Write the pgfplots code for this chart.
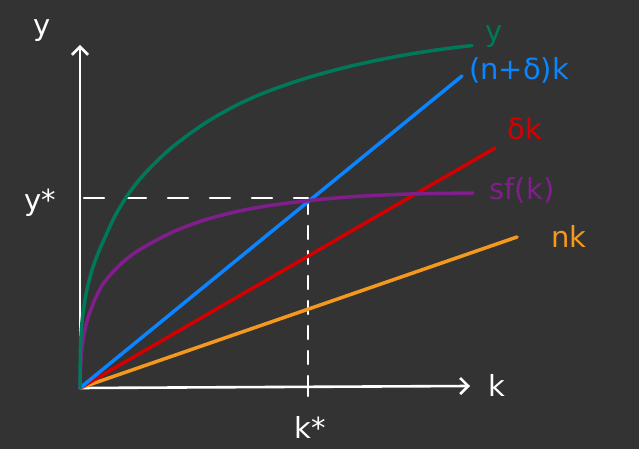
\documentclass[border=0pt]{standalone}
\usepackage{pgfplots}
\pgfplotsset{compat=1.18}
\usepackage{fontspec}
\setmainfont{DejaVu Sans}
\usetikzlibrary{arrows.meta}
\definecolor{bg}{HTML}{333333}
\definecolor{cgreen}{RGB}{0,121,90}
\definecolor{cblue}{RGB}{10,133,255}
\definecolor{cred}{RGB}{212,0,0}
\definecolor{cpurple}{RGB}{128,30,140}
\definecolor{corange}{RGB}{245,152,30}
\tikzset{lbl/.style={font=\fontsize{29}{32}\selectfont}}
\begin{document}
\begin{tikzpicture}
\begin{axis}[
  x=1pt, y=1pt, xmin=0, xmax=639, ymin=0, ymax=449,
  axis lines=none, clip=false, scale only axis,
  every axis plot/.append style={line width=3.5pt, line cap=round, line join=round},
]
\fill[bg] (axis cs:0,0) rectangle (axis cs:639,449);
% axes
\addplot[white, line width=2.6pt, -{Straight Barb[length=8pt,width=16pt,line width=2.6pt]}] coordinates {(80,61) (80,404)};
\addplot[white, line width=2.6pt, -{Straight Barb[length=8pt,width=16pt,line width=2.6pt]}] coordinates {(80,61) (470,63)};
% dashed guides
\addplot[white, line width=2.4pt, dash pattern=on 20pt off 22pt] coordinates {(84,251) (308,251)};
\addplot[white, line width=2.4pt, dash pattern=on 13pt off 12pt] coordinates {(308,248) (308,62)};
\addplot[white, line width=2.4pt] coordinates {(308,68) (308,53)};
% lines
\addplot[corange] coordinates {(80,61) (517,212)};
\addplot[cred] coordinates {(80,61) (495,301)};
\addplot[cblue] coordinates {(80,61) (462,373)};
% sf(k)
\addplot[cpurple, smooth] coordinates {(80,61) (81,89) (83,109) (86,124) (90,137) (96,152) (103,165) (112,176) (123,187) (136,197) (153,207) (175,218) (203,228.5) (237,237.5) (270,243.5) (310,248.5) (355,252.5) (410,255) (473,256)};
% y
\addplot[cgreen, smooth] coordinates {(80,61) (80.5,101) (81.5,121) (83,136) (85,149) (88,164) (93,182) (99,198) (107,216) (115,233) (127,253) (140,270) (153,284) (170,300) (190,315.5) (210,329) (235,343) (260,354.5) (290,365.6) (320,374.9) (350,382.7) (380,389.3) (410,394.9) (440,399.5) (472,403.5)};
% labels
\node[white, lbl] at (axis cs:42,418) {y};
\node[white, lbl] at (axis cs:40,246) {y*};
\node[white, lbl] at (axis cs:497,64) {k};
\node[white, lbl] at (axis cs:310,22) {k*};
\node[cgreen, lbl] at (axis cs:494,412) {y};
\node[cblue, lbl] at (axis cs:519,379) {(n+δ)k};
\node[cred, lbl] at (axis cs:525,320) {δk};
\node[cpurple, lbl] at (axis cs:522,259) {sf(k)};
\node[corange, lbl] at (axis cs:569,213) {nk};
\end{axis}
\end{tikzpicture}
\end{document}
